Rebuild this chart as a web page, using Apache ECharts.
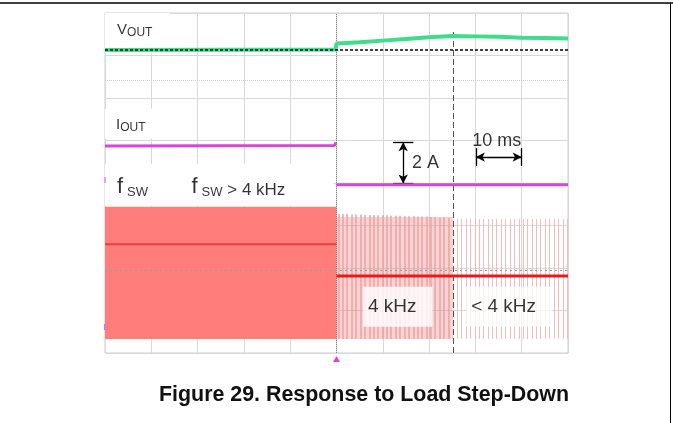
<!DOCTYPE html>
<html><head><meta charset="utf-8">
<script src="https://cdn.jsdelivr.net/npm/echarts@6/dist/echarts.min.js"></script>
<style>html,body{margin:0;padding:0;background:#fff}#c{width:673px;height:423px}</style>
</head><body><div id="c"></div>
<script>
// ---------- data (oscilloscope divisions: time 0..10 div, amplitude 0..8 div) ----------
const voutT = [0, 4.98, 5.0, 5.5, 6.0, 6.5, 7.0, 7.5, 8.0, 8.5, 9.0, 9.5, 10];
const voutV = [7.13, 7.14, 7.28, 7.31, 7.35, 7.39, 7.43, 7.46, 7.45, 7.44, 7.42, 7.41, 7.40];
const vRef = 7.13;
const ioutBeforeT = [0, 4.95, 4.99];
const ioutBeforeV = [4.87, 4.88, 4.95];
const ioutAfterT = [5.0, 10];
const ioutAfterV = [3.96, 3.96];
const swBeforeLow = 0.33, swBeforeHigh = 3.44, swStepT = 5;
const swBeforeMid = 2.56, swAfterMid = 1.81;
const pulseBottom = 0.33;
const denseT = [5.04,5.14,5.23,5.33,5.42,5.52,5.61,5.71,5.80,5.90,5.99,6.09,6.18,6.28,6.37,6.47,6.56,6.66,6.75,6.85,6.94,7.04,7.13,7.23,7.32,7.42];
const denseTop = [3.27,3.27,3.27,3.26,3.26,3.26,3.25,3.25,3.25,3.24,3.24,3.24,3.23,3.23,3.23,3.22,3.22,3.22,3.21,3.21,3.21,3.20,3.20,3.19,3.19,3.18];
const sparseT = [7.61,7.70,7.80,7.89,7.99,8.08,8.18,8.27,8.37,8.46,8.56,8.65,8.75,8.84,8.94,9.03,9.13,9.22,9.32,9.41,9.51,9.60,9.70,9.79,9.89,9.98];
const sparseTop = 3.15;
const denseEndT = 7.52;
const cursorT = 7.52, cursorTop = 7.6;
const centerT = 5;
const dottedLevels = [6.42, 1.95];
const channelMarks = [4.07, 0.61];
// annotation arrows (div units)
const ampArrowT = 6.44, ampArrowLo = 3.99, ampArrowHi = 4.96, ampCapFrom = 6.22, ampCapTo = 6.66;
const msArrowV = 4.61, msArrowFrom = 8.01, msArrowTo = 9.0, msCapLo = 4.40, msCapHi = 4.82;
// text labels
const labelText = ['V', 'I', 'f', 'f', '2 A', '10 ms', '4 kHz', '< 4 kHz'];
const labelSub  = ['OUT', 'OUT', 'SW', 'SW', '', '', '', ''];
const labelTail = ['', '', '', ' > 4 kHz', '', '', '', ''];
const labelT    = [0.26, 0.24, 0.26, 1.87, 6.63, 7.93, 5.57, 7.80];
const labelV    = [7.60, 5.37, 3.90, 3.90, 4.47, 4.99, 1.09, 1.09];
// white label boxes [t0, v0, t1, v1]
const boxV = [[0, 7.06, 1.4, 8], [0, 5.05, 1.05, 5.75], [0, 3.46, 4.93, 4.45]];
const caption = 'Figure 29. Response to Load Step-Down';

// ---------- chart ----------
const FONT = '"Liberation Sans", Arial, sans-serif';
const pair = (t, v) => t.map((x, i) => [x, v[i]]);
const vseg = (t, lo, hi, style) => [{coord: [t, lo], lineStyle: style}, {coord: [t, hi]}];
const hseg = (v, a, b, style) => [{coord: [a, v], lineStyle: style}, {coord: [b, v]}];

const pulseLines = [];
denseT.forEach((t, i) => pulseLines.push(vseg(t, pulseBottom, denseTop[i], {color: '#eba3a3', width: 1.5, type: 'solid'})));
sparseT.forEach(t => pulseLines.push(vseg(t, pulseBottom, sparseTop, {color: '#f2bcbc', width: 1, type: 'solid'})));

const kinds = ['chan', 'chan', 'fsw', 'fsw', 'note', 'note', 'box', 'box'];
const rich = {
  m: {fontSize: 15, fontFamily: FONT, color: '#000', lineHeight: 18, verticalAlign: 'middle'},
  s: {fontSize: 12, fontFamily: FONT, color: '#000', lineHeight: 11, verticalAlign: 'bottom'},
  F: {fontSize: 22, fontFamily: FONT, color: '#000', lineHeight: 24, verticalAlign: 'middle', width: 10},
  S: {fontSize: 13, fontFamily: FONT, color: '#000', lineHeight: 14, verticalAlign: 'bottom'},
  T: {fontSize: 17, fontFamily: FONT, color: '#000', lineHeight: 22, verticalAlign: 'bottom'},
  n: {fontSize: 18, fontFamily: FONT, color: '#000', lineHeight: 20},
  k: {fontSize: 19, fontFamily: FONT, color: '#000', lineHeight: 20}
};
const labelData = labelText.map((txt, i) => {
  let f;
  if (kinds[i] === 'chan') f = '{m|' + txt + '}{s|' + labelSub[i] + '}';
  else if (kinds[i] === 'fsw') f = '{F|' + txt + '}{S|' + labelSub[i] + '}' + (labelTail[i] ? '{T|' + labelTail[i] + '}' : '');
  else if (kinds[i] === 'note') f = '{n|' + txt + '}';
  else f = '{k|' + txt + '}';
  const item = {value: [labelT[i], labelV[i]], label: {formatter: f}};
  if (kinds[i] === 'box') { item.label.backgroundColor = '#fff'; item.label.padding = [10, 16, 10, 5]; }
  return item;
});

const option = {
  animation: false,
  backgroundColor: '#fff',
  grid: {left: 105, top: 13, width: 463, height: 340, show: true, borderColor: '#cfcfcf', borderWidth: 1},
  xAxis: {type: 'value', min: 0, max: 10, interval: 1,
    axisLabel: {show: false}, axisTick: {show: false}, axisLine: {show: false},
    splitLine: {lineStyle: {color: '#d8d8d8', width: 1}}},
  yAxis: {type: 'value', min: 0, max: 8, interval: 1,
    axisLabel: {show: false}, axisTick: {show: false}, axisLine: {show: false},
    splitLine: {lineStyle: {color: '#d8d8d8', width: 1}}},
  series: [
    { // white label boxes
      type: 'line', data: [], z: 1, silent: true,
      markArea: {silent: true, itemStyle: {color: '#fff'},
        data: boxV.map(b => [{coord: [b[0], b[1]]}, {coord: [b[2], b[3]]}])}
    },
    { // switching envelopes
      type: 'line', data: [], z: 2, silent: true,
      markArea: {silent: true, data: [
        [{coord: [0, swBeforeLow], itemStyle: {color: '#ff7d7b'}}, {coord: [swStepT, swBeforeHigh]}],
        [{coord: [swStepT, pulseBottom], itemStyle: {color: 'rgba(236,120,120,0.33)'}}, {coord: [denseEndT, 3.2]}]
      ]}
    },
    { // switching pulses
      type: 'line', data: [], z: 3, silent: true,
      markLine: {silent: true, symbol: ['none', 'none'], label: {show: false}, data: pulseLines}
    },
    { // dotted reference lines, centre line, cursor
      type: 'line', data: [], z: 4, silent: true,
      markLine: {silent: true, symbol: ['none', 'none'], label: {show: false}, data: [
        hseg(dottedLevels[0], 0, 10, {color: '#cfcfcf', width: 1, type: 'dotted'}),
        hseg(dottedLevels[1], 0, 10, {color: '#9a9a9a', width: 1, type: [2, 3]}),
        vseg(centerT, 0, 8, {color: '#808080', width: 1, type: 'dotted'}),
        vseg(cursorT, 0, cursorTop, {color: '#555', width: 1, type: [6, 3]})
      ]},
      markPoint: {silent: true, label: {show: false}, itemStyle: {color: '#e040e0'},
        data: [
          {coord: [centerT, 0], symbol: 'triangle', symbolSize: [7, 6], symbolOffset: [0, 6]},
          {coord: [0, channelMarks[0]], symbol: 'rect', symbolSize: [2, 6], symbolOffset: [0, 0], itemStyle: {color: '#ee9cee'}},
          {coord: [0, channelMarks[1]], symbol: 'rect', symbolSize: [2, 6], symbolOffset: [0, 0], itemStyle: {color: '#e070e0'}}
        ]}
    },
    { // switch-node average before step
      type: 'line', data: [[0, swBeforeMid], [swStepT, swBeforeMid]], z: 5, symbol: 'none', silent: true,
      lineStyle: {color: '#ea3f3e', width: 2}
    },
    { // switch-node average after step
      type: 'line', data: [[swStepT, swAfterMid], [10, swAfterMid]], z: 5, symbol: 'none', silent: true,
      lineStyle: {color: '#e31c1c', width: 3}
    },
    { // VOUT
      type: 'line', data: pair(voutT, voutV), z: 6, symbol: 'none', silent: true,
      lineStyle: {color: '#3fdc8a', width: 4}
    },
    { // VOUT reference (dashed)
      type: 'line', data: [[0, vRef], [10, vRef]], z: 7, symbol: 'none', silent: true,
      lineStyle: {color: 'rgba(25,35,30,0.85)', width: 2, type: [3, 2]}
    },
    { // IOUT before
      type: 'line', data: pair(ioutBeforeT, ioutBeforeV), z: 6, symbol: 'none', silent: true,
      lineStyle: {color: '#d944d9', width: 3}
    },
    { // IOUT after
      type: 'line', data: pair(ioutAfterT, ioutAfterV), z: 6, symbol: 'none', silent: true,
      lineStyle: {color: '#d944d9', width: 3}
    },
    { // arrows
      type: 'line', data: [], z: 8, silent: true,
      markLine: {silent: true, symbol: ['arrow', 'arrow'], symbolSize: [7, 9], label: {show: false},
        lineStyle: {color: '#000', width: 1.3, type: 'solid'},
        data: [vseg(ampArrowT, ampArrowLo, ampArrowHi), hseg(msArrowV, msArrowFrom, msArrowTo)]}
    },
    { // arrow caps
      type: 'line', data: [], z: 8, silent: true,
      markLine: {silent: true, symbol: ['none', 'none'], label: {show: false},
        lineStyle: {color: '#000', width: 1.3, type: 'solid'},
        data: [hseg(ampArrowHi, ampCapFrom, ampCapTo), hseg(ampArrowLo, ampCapFrom, ampCapTo),
               vseg(msArrowFrom, msCapLo, msCapHi), vseg(msArrowTo, msCapLo, msCapHi)]}
    },
    { // text labels
      type: 'scatter', data: labelData, z: 9, symbolSize: 0, silent: true,
      label: {show: true, position: 'right', distance: 0, rich: rich}
    }
  ],
  graphic: [
    {type: 'line', shape: {x1: 0, y1: 3, x2: 673, y2: 3}, style: {stroke: '#000', lineWidth: 1.5}},
    {type: 'line', shape: {x1: 670.5, y1: 3, x2: 670.5, y2: 423}, style: {stroke: '#000', lineWidth: 1}},
    {type: 'text', x: 159, y: 395, style: {text: caption, fill: '#111', font: 'bold 21.4px ' + FONT,
      textAlign: 'left', align: 'left', textVerticalAlign: 'middle', verticalAlign: 'middle'}}
  ]
};
const chart = echarts.init(document.getElementById('c'), null, {renderer: 'canvas'});
chart.setOption(option);
</script>
</body></html>
